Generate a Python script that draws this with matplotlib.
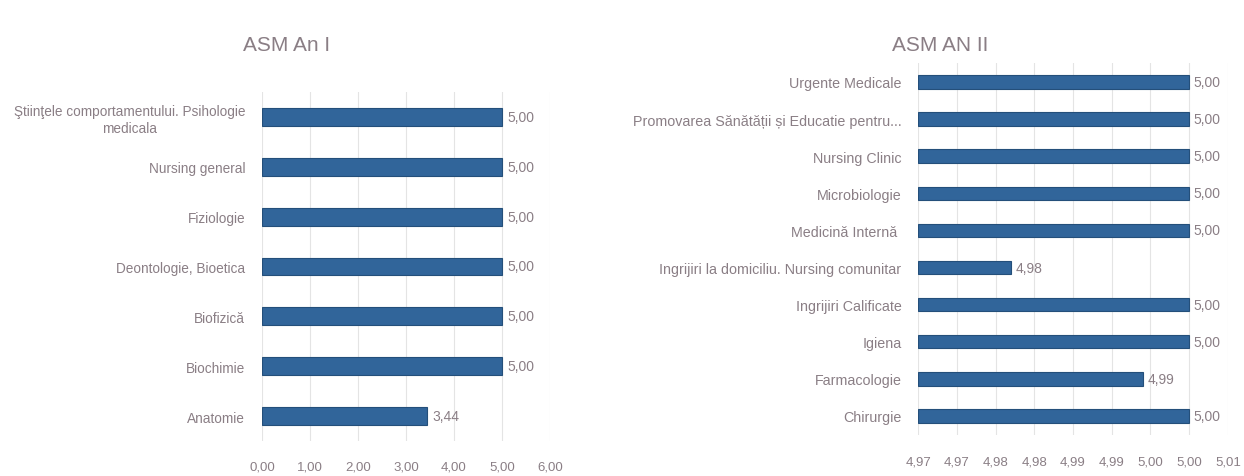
import numpy as np
import matplotlib
matplotlib.use("Agg")
import matplotlib.pyplot as plt

# --- date ---
an1_categorii = ["Anatomie", "Biochimie", "Biofizică", "Deontologie, Bioetica",
                 "Fiziologie", "Nursing general",
                 "Ştiinţele comportamentului. Psihologie\nmedicala"]
an1_valori = [3.44, 5.00, 5.00, 5.00, 5.00, 5.00, 5.00]
an1_ticks = [0, 1, 2, 3, 4, 5, 6]
an1_tick_labels = ["0,00", "1,00", "2,00", "3,00", "4,00", "5,00", "6,00"]

an2_categorii = ["Chirurgie", "Farmacologie", "Igiena", "Ingrijiri Calificate",
                 "Ingrijiri la domiciliu. Nursing comunitar", "Medicină Internă ",
                 "Microbiologie", "Nursing Clinic",
                 "Promovarea Sănătății și Educatie pentru...", "Urgente Medicale"]
an2_valori = [5.00, 4.994, 5.00, 5.00, 4.977, 5.00, 5.00, 5.00, 5.00, 5.00]
an2_ticks = [4.965, 4.970, 4.975, 4.980, 4.985, 4.990, 4.995, 5.000, 5.005]
an2_tick_labels = ["4,97", "4,97", "4,98", "4,98", "4,99", "4,99", "5,00", "5,00", "5,01"]

# --- stil ---
plt.rcParams['font.family'] = ['Liberation Sans', 'DejaVu Sans']
BAR = '#31659a'
EDGE = '#244f7a'
TEXT = '#8a7e85'
GRID = '#e4e4e4'


def fmt(v):
    return ("%.2f" % v).replace(".", ",")


def deseneaza(ax, cats, vals, ticks, tick_labels, xmin, xmax, height, titlu, title_x,
              label_off, xpad, cat_size):
    y = np.arange(len(cats))
    ax.barh(y, [v - xmin for v in vals], left=xmin, height=height,
            color=BAR, edgecolor=EDGE, linewidth=0.8, zorder=3)
    ax.set_xlim(xmin, xmax)
    ax.set_ylim(-0.5, len(cats) - 0.5)
    ax.set_yticks(y)
    ax.set_yticklabels(cats, fontsize=cat_size, color=TEXT, multialignment='center')
    ax.set_xticks(ticks)
    ax.set_xticklabels(tick_labels, fontsize=9.5, color=TEXT)
    ax.tick_params(axis='both', length=0)
    ax.tick_params(axis='y', pad=12)
    ax.tick_params(axis='x', pad=xpad)
    ax.grid(axis='x', color=GRID, linewidth=0.8, zorder=0)
    for s in ax.spines.values():
        s.set_visible(False)
    for yi, v in zip(y, vals):
        ax.text(v + label_off, yi, fmt(v), va='center', ha='left',
                fontsize=10, color=TEXT)
    ax.figure.text(title_x, 0.905, titlu, ha='center', va='center',
                   fontsize=15, color=TEXT)


fig = plt.figure(figsize=(12.44, 4.77), dpi=100)

ax1 = fig.add_axes([0.2106, 0.0734, 0.2315, 0.7317])
deseneaza(ax1, an1_categorii, an1_valori, an1_ticks, an1_tick_labels,
          0, 6, 0.36, "ASM An I", 287 / 1244, 0.12, 14, 9.8)

ax2 = fig.add_axes([0.738, 0.087, 0.2491, 0.778])
deseneaza(ax2, an2_categorii, an2_valori, an2_ticks, an2_tick_labels,
          4.965, 5.005, 0.36, "ASM AN II", 940 / 1244, 0.0006, 15, 10.3)

fig.savefig("out.png", dpi=100)
